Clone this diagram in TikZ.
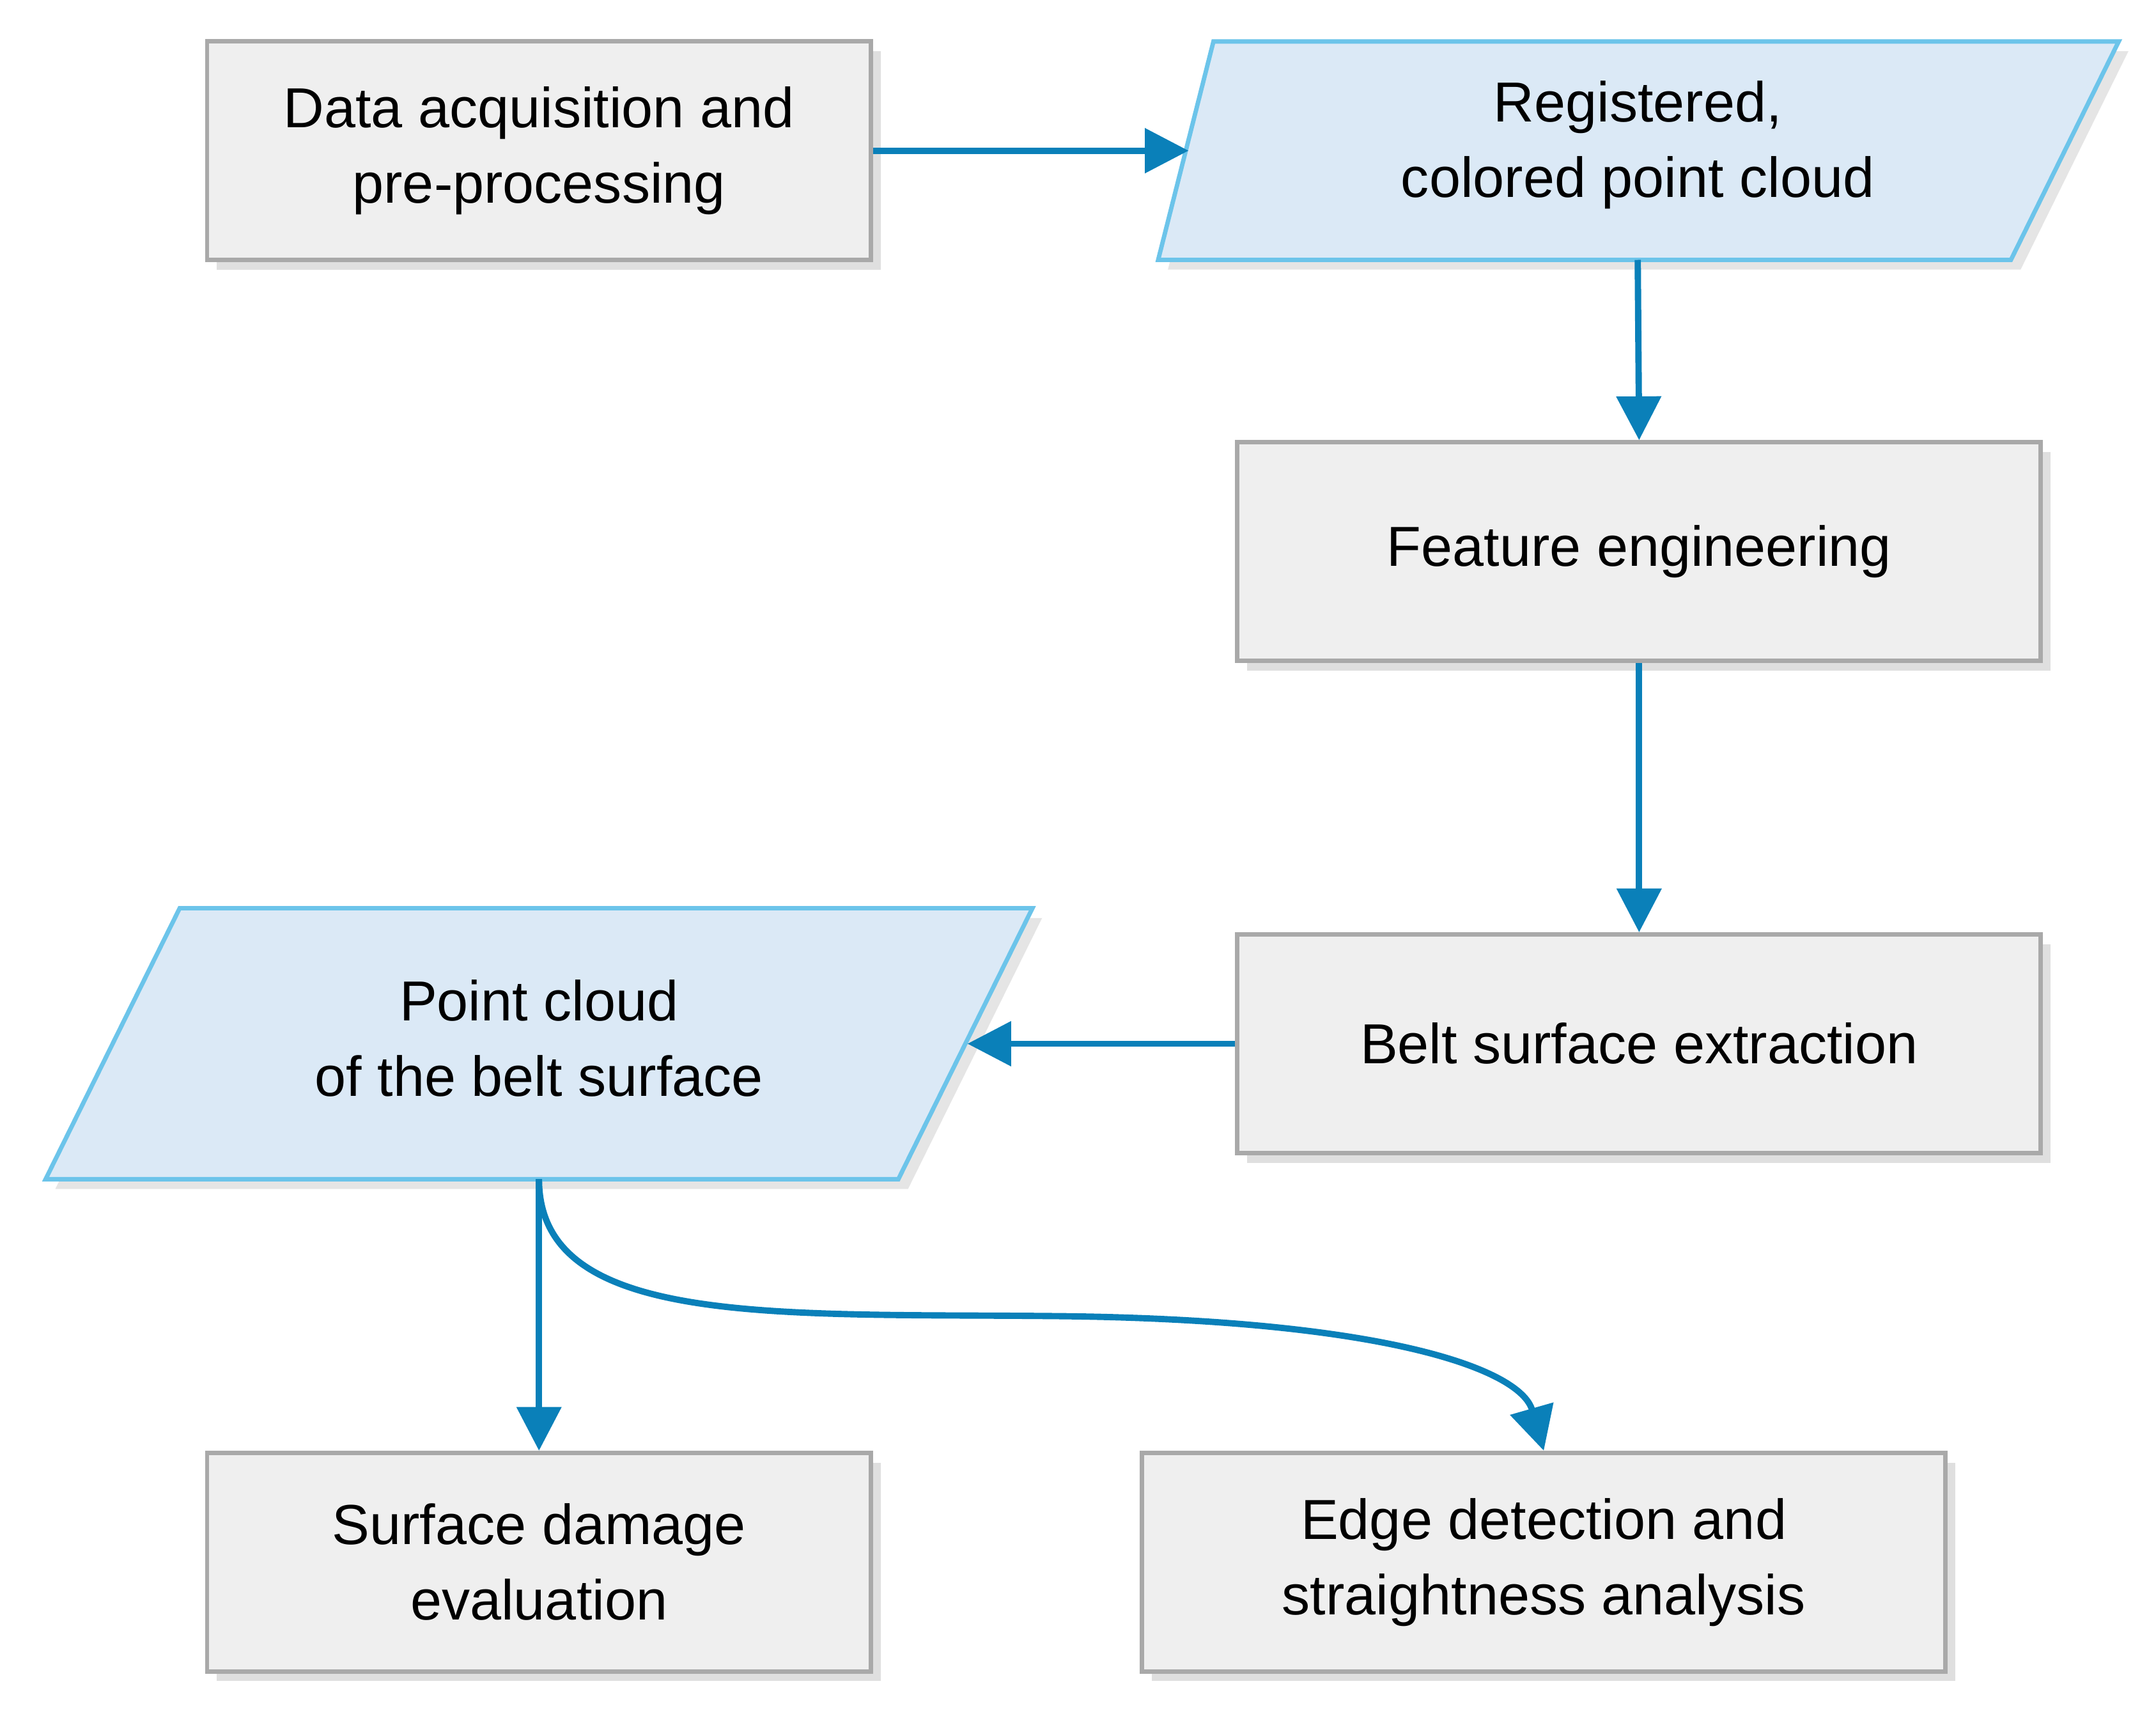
\documentclass[tikz,border=0pt]{standalone}
\usepackage{fontspec}
\setmainfont{Liberation Sans}
\usetikzlibrary{arrows.meta,positioning,shadows}
\definecolor{flowblue}{HTML}{0A80B9}
\definecolor{boxgray}{HTML}{EFEFEF}
\definecolor{boxline}{HTML}{A9A9A9}
\definecolor{datafill}{HTML}{DBE9F6}
\definecolor{dataline}{HTML}{6CC4EA}

\begin{document}
\begin{tikzpicture}[x=0.01cm, y=-0.01cm,
  every node/.style={font=\fontsize{11.6}{15.5}\selectfont, align=center},
  process/.style={draw=boxline, line width=0.9pt, fill=boxgray, minimum width=4.8cm, minimum height=1.58cm,
    drop shadow={shadow xshift=2pt, shadow yshift=-2pt, fill=black!25}},
  data/.style={draw=dataline, line width=0.9pt, fill=datafill,
    drop shadow={shadow xshift=2pt, shadow yshift=-2pt, fill=black!20}},
  flow/.style={-{Triangle[length=9pt, width=9pt]}, flowblue, line width=1.3pt}]
  \useasboundingbox (0,0) rectangle (1560,1236);

  % Data shapes (parallelograms)
  \path[data] (878,30) -- (1533,30) -- (1455,188) -- (838,188) -- cycle;
  \path[data] (130,657) -- (747,657) -- (650,853) -- (33,853) -- cycle;
  \coordinate (cloudin) at (860,109);
  \coordinate (cloudout) at (1185,188);
  \coordinate (beltin) at (700,755);
  \coordinate (beltout) at (390,853);

  % Process steps
  \node[process] (acq) at (390,109) {Data acquisition and\\pre-processing};
  \node (cloud) at (1185,105) {Registered,\\colored point cloud};
  \node[process, minimum width=5.81cm] (feat) at (1186,399) {Feature engineering};
  \node[process, minimum width=5.81cm] (extr) at (1186,755) {Belt surface extraction};
  \node (belt) at (390,751) {Point cloud\\of the belt surface};
  \node[process] (dmg) at (390,1130) {Surface damage\\evaluation};
  \node[process, minimum width=5.81cm] (edge) at (1117,1130) {Edge detection and\\straightness analysis};

  % Connectors
  \draw[flow] (acq.east) -- (cloudin);
  \draw[flow] (cloudout) -- (feat.north);
  \draw[flow] (feat.south) -- (extr.north);
  \draw[flow] (extr.west) -- (beltin);
  \draw[flow] (beltout) -- (dmg.north);
  \draw[flow] (beltout) .. controls (390,960) and (560,950) .. (760,952)
    .. controls (1000,954) and (1100,990) .. (edge.north);
\end{tikzpicture}
\end{document}
